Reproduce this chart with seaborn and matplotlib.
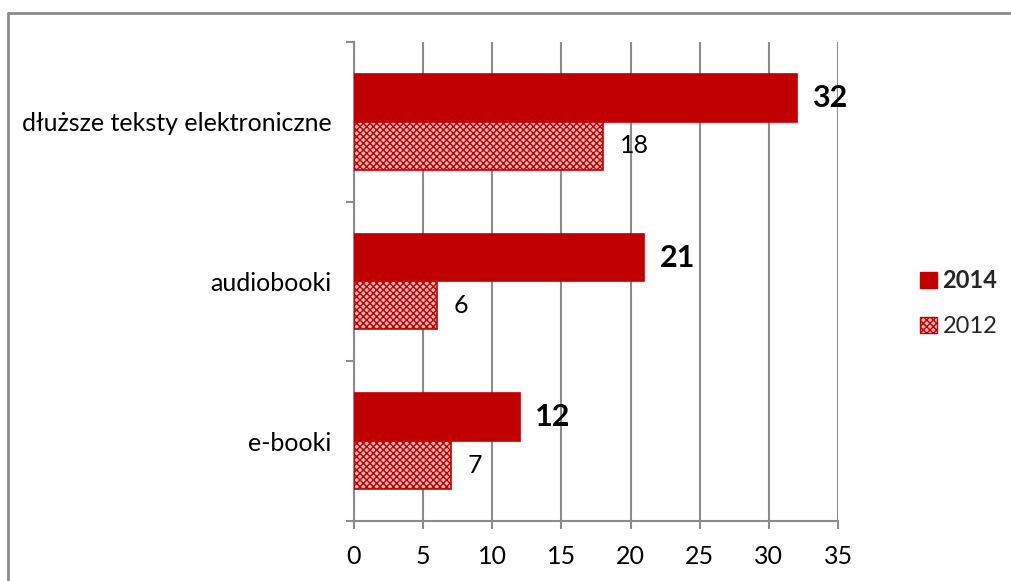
import matplotlib
matplotlib.use("Agg")
import matplotlib.pyplot as plt
import matplotlib.lines as mlines
import matplotlib.patches as mpatches
import pandas as pd
import seaborn as sns

categories = ["dłuższe teksty elektroniczne", "audiobooki", "e-booki"]
values_2014 = [32, 21, 12]
values_2012 = [18, 6, 7]
years = ["2014", "2012"]
x_ticks = [0, 5, 10, 15, 20, 25, 30, 35]

red = "#c00000"
pink = "#f2b8b8"
grid_grey = "#8c8c8c"

df = pd.DataFrame({
    "kategoria": categories * 2,
    "rok": ["2014"] * 3 + ["2012"] * 3,
    "procent": values_2014 + values_2012,
})

sns.set_theme(style="white")
plt.rcParams["font.family"] = ["Lato", "DejaVu Sans"]

fig = plt.figure(figsize=(10.11, 5.81), dpi=100)
ax = fig.add_axes([0.350, 0.1033, 0.479, 0.8244])

sns.barplot(data=df, y="kategoria", x="procent", hue="rok", order=categories,
            hue_order=years, orient="h", width=0.6, dodge=True, saturation=1,
            palette=[red, red], legend=False, ax=ax, zorder=3)

# 2012 bars get the checkered fill
n = len(categories)
for i, bar in enumerate(ax.patches):
    bar.set_edgecolor(red)
    bar.set_linewidth(1.2)
    if i >= n:
        bar.set_facecolor(pink)
        bar.set_hatch("xxxxx")

# value labels
for i, bar in enumerate(ax.patches):
    w = bar.get_width()
    yc = bar.get_y() + bar.get_height() / 2
    if i < n:
        ax.annotate(f"{values_2014[i]:.0f}", (w, yc), xytext=(11, 0),
                    textcoords="offset points", va="center", ha="left",
                    fontsize=22, fontweight="bold", color="black")
    else:
        ax.annotate(f"{values_2012[i - n]:.0f}", (w, yc), xytext=(12, 0),
                    textcoords="offset points", va="center", ha="left",
                    fontsize=18, color="black")

ax.set_xlim(0, 35)
ax.set_ylim(2.5, -0.5)
ax.set_xticks(x_ticks)
ax.set_xticklabels([str(t) for t in x_ticks], fontsize=18)
ax.set_yticks(range(n))
ax.set_yticklabels(categories, fontsize=18)
ax.set_yticks([-0.5, 0.5, 1.5, 2.5], minor=True)
ax.set_xlabel("")
ax.set_ylabel("")

ax.xaxis.grid(True, color=grid_grey, linewidth=1.5, zorder=0)
ax.set_axisbelow(True)
for side in ["top", "right"]:
    ax.spines[side].set_visible(False)
for side in ["left", "bottom"]:
    ax.spines[side].set_color(grid_grey)
    ax.spines[side].set_linewidth(1.5)

ax.tick_params(axis="y", which="major", length=0, pad=16, colors="black")
ax.tick_params(axis="y", which="minor", length=6, width=1.5, color=grid_grey, direction="out", left=True)
ax.tick_params(axis="x", which="major", length=6, width=1.5, color=grid_grey, direction="out",
               bottom=True, pad=11, labelcolor="black")

# legend
h2014 = mpatches.Patch(facecolor=red, edgecolor=red, label="2014")
h2012 = mpatches.Patch(facecolor=pink, edgecolor=red, hatch="xxxxx", label="2012")
leg = fig.legend(handles=[h2014, h2012], loc="center left", bbox_to_anchor=(0.910, 0.478),
                 frameon=False, fontsize=17, handlelength=0.7, handleheight=0.7,
                 handletextpad=0.25, labelspacing=1.0, borderpad=0, borderaxespad=0)
leg.get_texts()[0].set_fontweight("bold")

# outer chart frame (only top and left edges are visible)
fig.add_artist(mlines.Line2D([8 / 1011, 1.0], [1 - 13 / 581] * 2, transform=fig.transFigure,
                             color=grid_grey, linewidth=2))
fig.add_artist(mlines.Line2D([8 / 1011] * 2, [0.0, 1 - 13 / 581], transform=fig.transFigure,
                             color=grid_grey, linewidth=2))

fig.savefig("out.png", dpi=100)
